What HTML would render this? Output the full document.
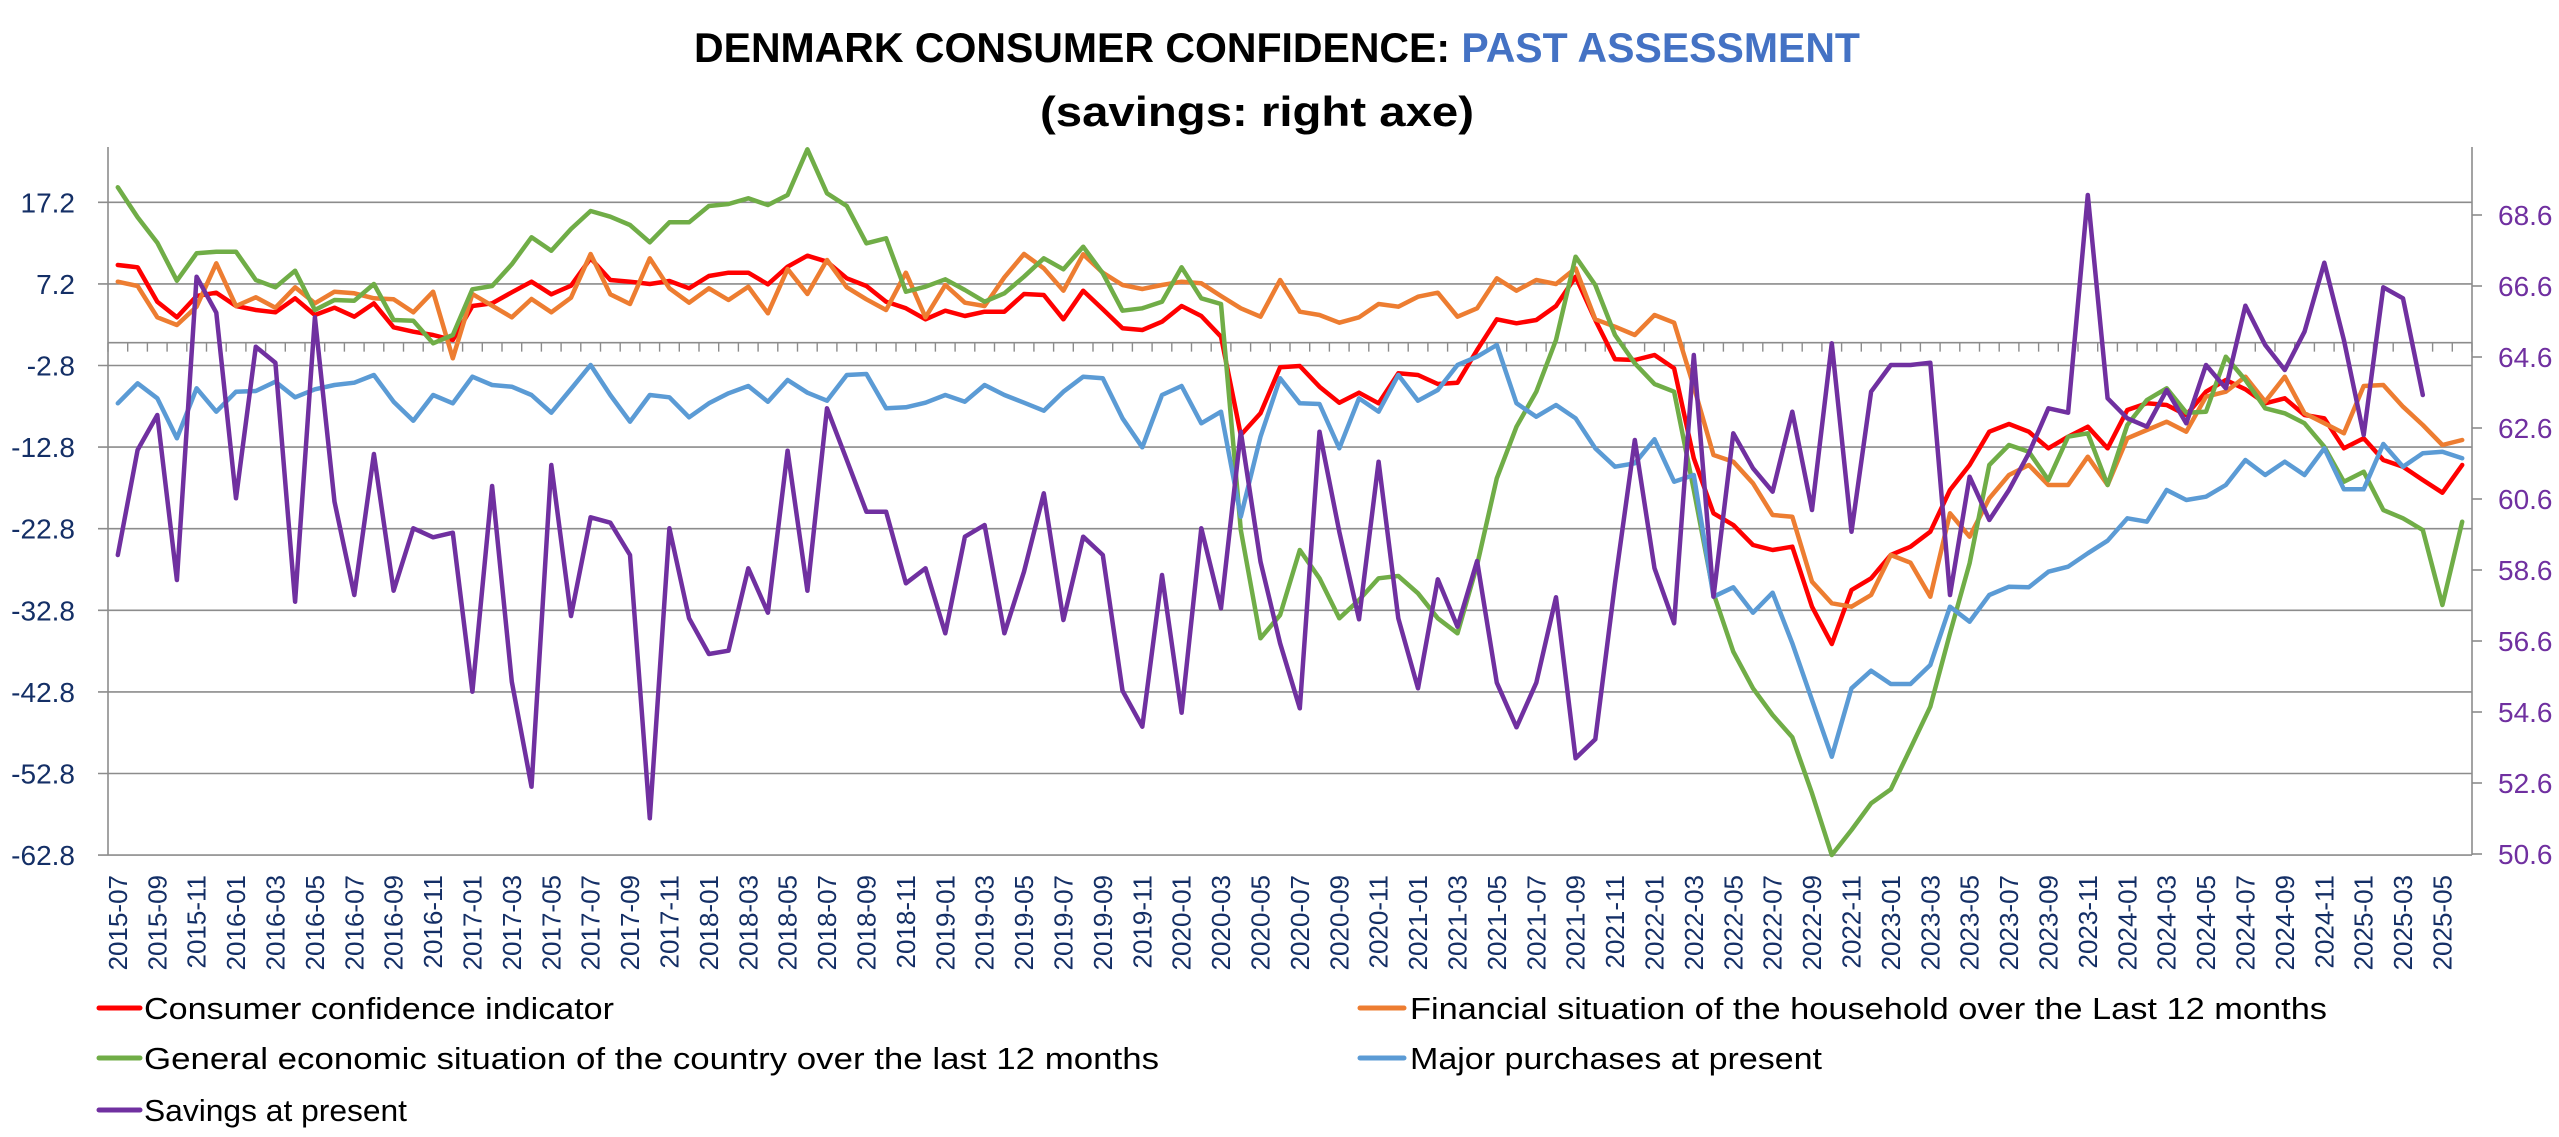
<!DOCTYPE html>
<html><head><meta charset="utf-8">
<style>
html,body{margin:0;padding:0;background:#fff;}
svg{display:block;}
text{font-family:"Liberation Sans",sans-serif;}
</style></head>
<body>
<svg id="c" width="2559" height="1137" viewBox="0 0 2559 1137" xmlns="http://www.w3.org/2000/svg">
<rect width="2559" height="1137" fill="#fff"/>
<text x="694" y="62" font-size="42" font-weight="bold" textLength="1166" lengthAdjust="spacingAndGlyphs"><tspan fill="#000">DENMARK CONSUMER CONFIDENCE: </tspan><tspan fill="#4472C4">PAST ASSESSMENT</tspan></text>
<text x="1040" y="126" font-size="42" font-weight="bold" fill="#000" textLength="434" lengthAdjust="spacingAndGlyphs">(savings: right axe)</text>
<g id="grid"></g>
<g id="series" fill="none" stroke-width="4.5" stroke-linejoin="round" stroke-linecap="round"></g>
<g id="labels"></g>
<g font-size="31" fill="#000">
<line x1="99" y1="1008" x2="140" y2="1008" stroke="#FF0000" stroke-width="5" stroke-linecap="round"/>
<text x="144" y="1019" textLength="470" lengthAdjust="spacingAndGlyphs">Consumer confidence indicator</text>
<line x1="1360" y1="1008" x2="1404" y2="1008" stroke="#ED7D31" stroke-width="5" stroke-linecap="round"/>
<text x="1410" y="1019" textLength="917" lengthAdjust="spacingAndGlyphs">Financial situation of the household over the Last 12 months</text>
<line x1="99" y1="1058" x2="140" y2="1058" stroke="#70AD47" stroke-width="5" stroke-linecap="round"/>
<text x="144" y="1069" textLength="1015" lengthAdjust="spacingAndGlyphs">General economic situation of the country over the last 12 months</text>
<line x1="1360" y1="1058" x2="1404" y2="1058" stroke="#5B9BD5" stroke-width="5" stroke-linecap="round"/>
<text x="1410" y="1069" textLength="412" lengthAdjust="spacingAndGlyphs">Major purchases at present</text>
<line x1="99" y1="1110" x2="140" y2="1110" stroke="#7030A0" stroke-width="5" stroke-linecap="round"/>
<text x="144" y="1121" textLength="263" lengthAdjust="spacingAndGlyphs">Savings at present</text>
</g>
</svg>
<script>
(function(){
var NS="http://www.w3.org/2000/svg";
function el(p,t,a,txt){var e=document.createElementNS(NS,t);for(var k in a)e.setAttribute(k,a[k]);if(txt!==undefined)e.textContent=txt;p.appendChild(e);return e;}
var grid=document.getElementById('grid'),ser=document.getElementById('series'),lab=document.getElementById('labels');
var L=108,R=2472,T=147,B=855,dx=19.7;
function X(i){return L+dx*(i+0.5);}
function YL(v){return 202.3+(17.2-v)*8.16;}
function YR(r){return 215+(68.6-r)*35.5;}
var g="#8c8c8c";
for(var k=0;k<9;k++){var v=17.2-10*k,y=YL(v);
 el(grid,'line',{x1:L-10,y1:y,x2:R,y2:y,stroke:g,'stroke-width':1.6});
 el(lab,'text',{x:75,y:y+10,'font-size':28,fill:'#142f66','text-anchor':'end'},v.toFixed(1));}
for(var k=0;k<10;k++){var r=68.6-2*k,y=YR(r);
 el(grid,'line',{x1:R,y1:y,x2:R+10,y2:y,stroke:g,'stroke-width':1.6});
 el(lab,'text',{x:2498,y:y+10,'font-size':28,fill:'#7030A0'},r.toFixed(1));}
el(grid,'line',{x1:L,y1:T,x2:L,y2:B,stroke:g,'stroke-width':1.6});
el(grid,'line',{x1:R,y1:T,x2:R,y2:B,stroke:g,'stroke-width':1.6});
var y0=YL(0);
el(grid,'line',{x1:L,y1:y0,x2:R,y2:y0,stroke:g,'stroke-width':1.6});
for(var i=0;i<=120;i++){var x=L+dx*i;el(grid,'line',{x1:x,y1:y0,x2:x,y2:y0+9,stroke:g,'stroke-width':1.4});}
for(var i=0;i<120;i+=2){var m=6+i,yr=2015+Math.floor(m/12),mo=(m%12)+1;
 var s=yr+'-'+(mo<10?'0':'')+mo,x=X(i)+9;
 el(lab,'text',{x:0,y:0,'font-size':26,fill:'#142f66','text-anchor':'end',transform:'translate('+x+',875) rotate(-90)'},s);}
var red=[555,562,665,712,648,638,678,690,697,655,705,683,710,670,742,755,765,780,678,670,637,605,643,617,535,600,605,612,603,625,
588,578,578,613,560,527,545,595,618,665,685,718,692,708,695,695,642,645,718,632,688,745,750,725,678,708,770,1065,1000,862,858,
920,968,938,970,880,885,912,908,810,718,730,720,678,590,720,838,840,825,865,1135,1300,1335,1395,1410,1400,1580,1692,1530,1495,1425,1400,1355,
1230,1155,1055,1032,1055,1105,1070,1040,1105,990,970,975,1005,935,900,928,970,955,1005,1015,1105,1075,1140,1160,1200,1238,1155];
var orange=[605,618,712,735,680,550,678,652,683,622,670,635,640,655,658,697,635,835,642,677,712,657,697,653,522,643,672,535,625,668,
625,660,620,700,567,642,540,622,658,690,578,712,615,668,678,592,522,565,632,523,578,615,627,615,605,610,648,685,710,600,695,
705,728,712,672,680,650,638,710,685,595,632,600,612,565,718,740,765,705,728,920,1125,1145,1210,1305,1310,1505,1570,1580,1545,1425,1448,1550,
1300,1370,1255,1185,1155,1215,1215,1130,1215,1075,1050,1025,1055,950,935,890,965,890,1000,1030,1060,918,915,980,1035,1095,1080];
var green=[322,412,488,602,520,515,515,600,622,572,690,660,662,612,720,722,790,765,628,618,553,472,512,447,393,410,435,487,427,427,
378,372,355,375,345,208,340,378,490,475,635,620,598,630,665,640,590,535,568,500,580,692,685,665,562,655,672,1350,1675,1605,1410,
1495,1615,1560,1495,1488,1540,1615,1660,1455,1195,1040,935,780,530,615,765,850,912,935,1230,1540,1715,1825,1905,1972,2140,2325,2250,2170,2128,2005,1880,
1660,1450,1155,1095,1115,1200,1070,1060,1215,1035,960,925,998,995,830,900,985,1000,1030,1100,1205,1175,1290,1315,1350,1575,1325];
var blue=[970,910,955,1075,925,995,935,933,905,952,928,915,908,885,965,1022,945,970,890,915,920,945,998,927,855,945,1025,945,952,1012,
970,940,918,965,900,938,962,885,882,985,982,968,945,965,915,945,968,992,935,890,895,1015,1102,945,918,1030,995,1310,1070,895,970,
972,1105,955,995,885,962,930,855,830,795,970,1010,975,1015,1105,1160,1150,1078,1205,1185,1550,1522,1598,1538,1690,1860,2030,1825,1772,1812,1812,1755,
1580,1625,1545,1520,1522,1475,1460,1420,1382,1315,1325,1230,1260,1250,1215,1140,1185,1145,1185,1105,1228,1228,1092,1160,1120,1115,1135];
var purple=[1425,1110,1005,1500,590,698,1255,800,848,1565,712,1265,1545,1122,1532,1345,1372,1358,1835,1218,1805,2120,1155,1608,1312,1328,1425,2215,1345,1615,
1722,1712,1465,1598,1112,1532,985,1140,1295,1295,1510,1465,1660,1370,1335,1660,1475,1240,1620,1370,1425,1832,1940,1485,1898,1345,1585,1055,1445,1690,1885,1055,
1355,1618,1145,1615,1825,1498,1640,1443,1808,1942,1808,1552,2035,1978,1510,1080,1465,1630,825,1550,1060,1165,1235,995,1290,790,1355,935,855,855,848,
1545,1190,1320,1230,1120,985,998,345,955,1015,1040,930,1030,855,925,677,795,870,755,548,780,1065,622,655,945];
function line(arr,col){var p=[];for(var i=0;i<arr.length;i++)p.push(X(i).toFixed(1)+','+(arr[i]/3+80).toFixed(1));
 el(ser,'polyline',{points:p.join(' '),stroke:col});}
line(red,'#FF0000');line(orange,'#ED7D31');line(green,'#70AD47');line(blue,'#5B9BD5');line(purple,'#7030A0');
})();
</script>
</body></html>
